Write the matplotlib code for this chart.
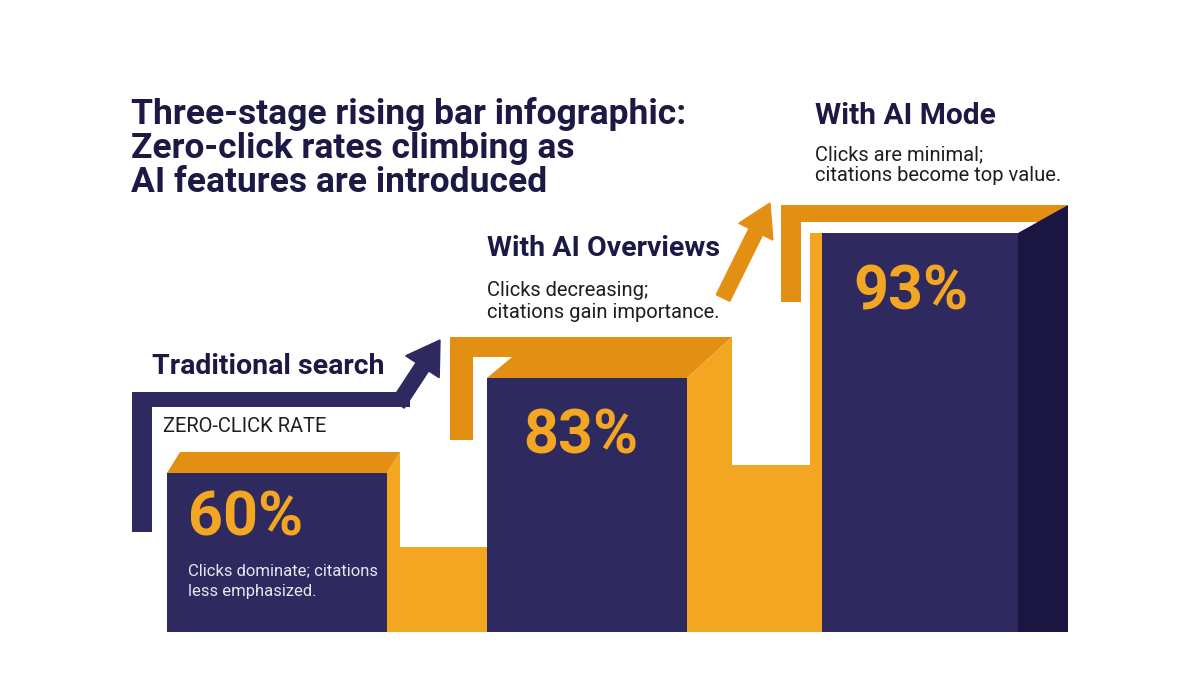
import numpy as np
import matplotlib
matplotlib.use('Agg')
import matplotlib.pyplot as plt
from matplotlib.patches import Polygon, FancyArrow

# data
stages = ['Traditional search', 'With AI Overviews', 'With AI Mode']
rates = [60, 83, 93]
notes = ['Clicks dominate; citations\nless emphasized.',
         'Clicks decreasing;\ncitations gain importance.',
         'Clicks are minimal;\ncitations become top value.']
title = 'Three-stage rising bar infographic:\nZero-click rates climbing as\nAI features are introduced'

NAVY = '#2e295e'
NAVY_DARK = '#1b1542'
ORANGE = '#f3a622'
ORANGE_DARK = '#e38f14'
INK = '#1c1a45'

plt.rcParams['font.family'] = ['Roboto', 'DejaVu Sans']

fig = plt.figure(figsize=(12, 6.75), dpi=100)
fig.patch.set_facecolor('white')

# bar layer: infographic (non linear) value scale
base = 632
anchor_v = [0, 60, 83, 93, 100]
anchor_p = [0, 159, 254, 399, 632]
ax = fig.add_axes([0, (675 - base) / 675, 1, base / 675])
ax.set_yscale('function', functions=(lambda v: np.interp(v, anchor_v, anchor_p),
                                     lambda p: np.interp(p, anchor_p, anchor_v)))
ax.set_xlim(0, 1200)
ax.set_ylim(0, 100)
ax.axis('off')
ax.set_zorder(0)

# overlay layer in pixel units (y down) for decorations and text
bg = fig.add_axes([0, 0, 1, 1])
bg.set_xlim(0, 1200)
bg.set_ylim(675, 0)
bg.axis('off')
bg.patch.set_alpha(0)
bg.set_zorder(1)

lefts = [167, 487, 822]
widths = [220, 200, 196]
ax.bar(lefts, rates, width=widths, align='edge', color=NAVY, zorder=3)


def top_px(x, v):
    # bar top in overlay pixel coords
    d = ax.transData.transform((x, v))
    return bg.transData.inverted().transform(d)[1]


tops = [top_px(l, r) for l, r in zip(lefts, rates)]
rights = [l + w for l, w in zip(lefts, widths)]


def poly(pts, c, z=2):
    bg.add_patch(Polygon(pts, closed=True, facecolor=c, edgecolor='none', zorder=z))


# stage 1: navy L arrow, orange top and side
t = tops[0]
poly([(132, 532), (132, 392), (410, 392), (410, 407), (152, 407), (152, 532)], NAVY)
bg.add_patch(FancyArrow(398, 404, 42, -64, width=15, head_width=40, head_length=32,
                        length_includes_head=True, color=NAVY, zorder=2))
poly([(lefts[0], t), (lefts[0] + 13, t - 21), (rights[0] + 13, t - 21), (rights[0], t)], ORANGE_DARK)
poly([(rights[0], t), (rights[0] + 13, t - 21), (rights[0] + 13, 547), (lefts[1], 547),
      (lefts[1], base), (rights[0], base)], ORANGE)

# stage 2
t = tops[1]
poly([(450, 440), (450, t - 41), (rights[1] + 45, t - 41), (rights[1], t), (lefts[1], t),
      (lefts[1] + 25, t - 21), (473, t - 21), (473, 440)], ORANGE_DARK)
poly([(rights[1], t), (rights[1] + 45, t - 41), (rights[1] + 45, 465), (810, 465),
      (810, tops[2]), (lefts[2], tops[2]), (lefts[2], base), (rights[1], base)], ORANGE)
bg.add_patch(FancyArrow(723, 298, 47, -95, width=15, head_width=38, head_length=32,
                        length_includes_head=True, color=ORANGE_DARK, zorder=2))

# stage 3
t = tops[2]
poly([(781, 302), (781, t - 28), (rights[2] + 50, t - 28), (rights[2] + 22, t - 11),
      (801, t - 11), (801, 302)], ORANGE_DARK)
poly([(rights[2], t), (rights[2] + 50, t - 28), (rights[2] + 50, base), (rights[2], base)], NAVY_DARK)

# texts
bg.text(131, 148, title, fontsize=25.5, fontweight='bold', color=INK, va='center',
        ha='left', linespacing=1.02)

head_xy = [(152, 367), (487, 249), (815, 116)]
head_fs = [20.5, 20.5, 21.5]
for (x, y), s, fs in zip(head_xy, stages, head_fs):
    bg.text(x, y, s, fontsize=fs, fontweight='bold', color=INK, va='center', ha='left')

bg.text(163, 426, 'ZERO-CLICK RATE', fontsize=14.5, color='#1e1e1e', va='center', ha='left')

note_xy = [(188, 581), (487, 302), (815, 165)]
note_c = ['#e6e6f0', '#1e1e1e', '#1e1e1e']
note_fs = [12, 14.5, 14.5]
note_ls = [1.45, 1.2, 1.1]
for (x, y), s, c, fs, ls in zip(note_xy, notes, note_c, note_fs, note_ls):
    bg.text(x, y, s, fontsize=fs, color=c, va='center', ha='left', linespacing=ls, zorder=5)

pct_x = [188, 523, 853]
pct_off = [45, 58, 59]
for x, tp, off, r in zip(pct_x, tops, pct_off, rates):
    bg.text(x, tp + off, f'{r}%', fontsize=44, fontweight='bold', color=ORANGE,
            va='center', ha='left', zorder=5)

fig.savefig('out.png', dpi=100, facecolor='white')
